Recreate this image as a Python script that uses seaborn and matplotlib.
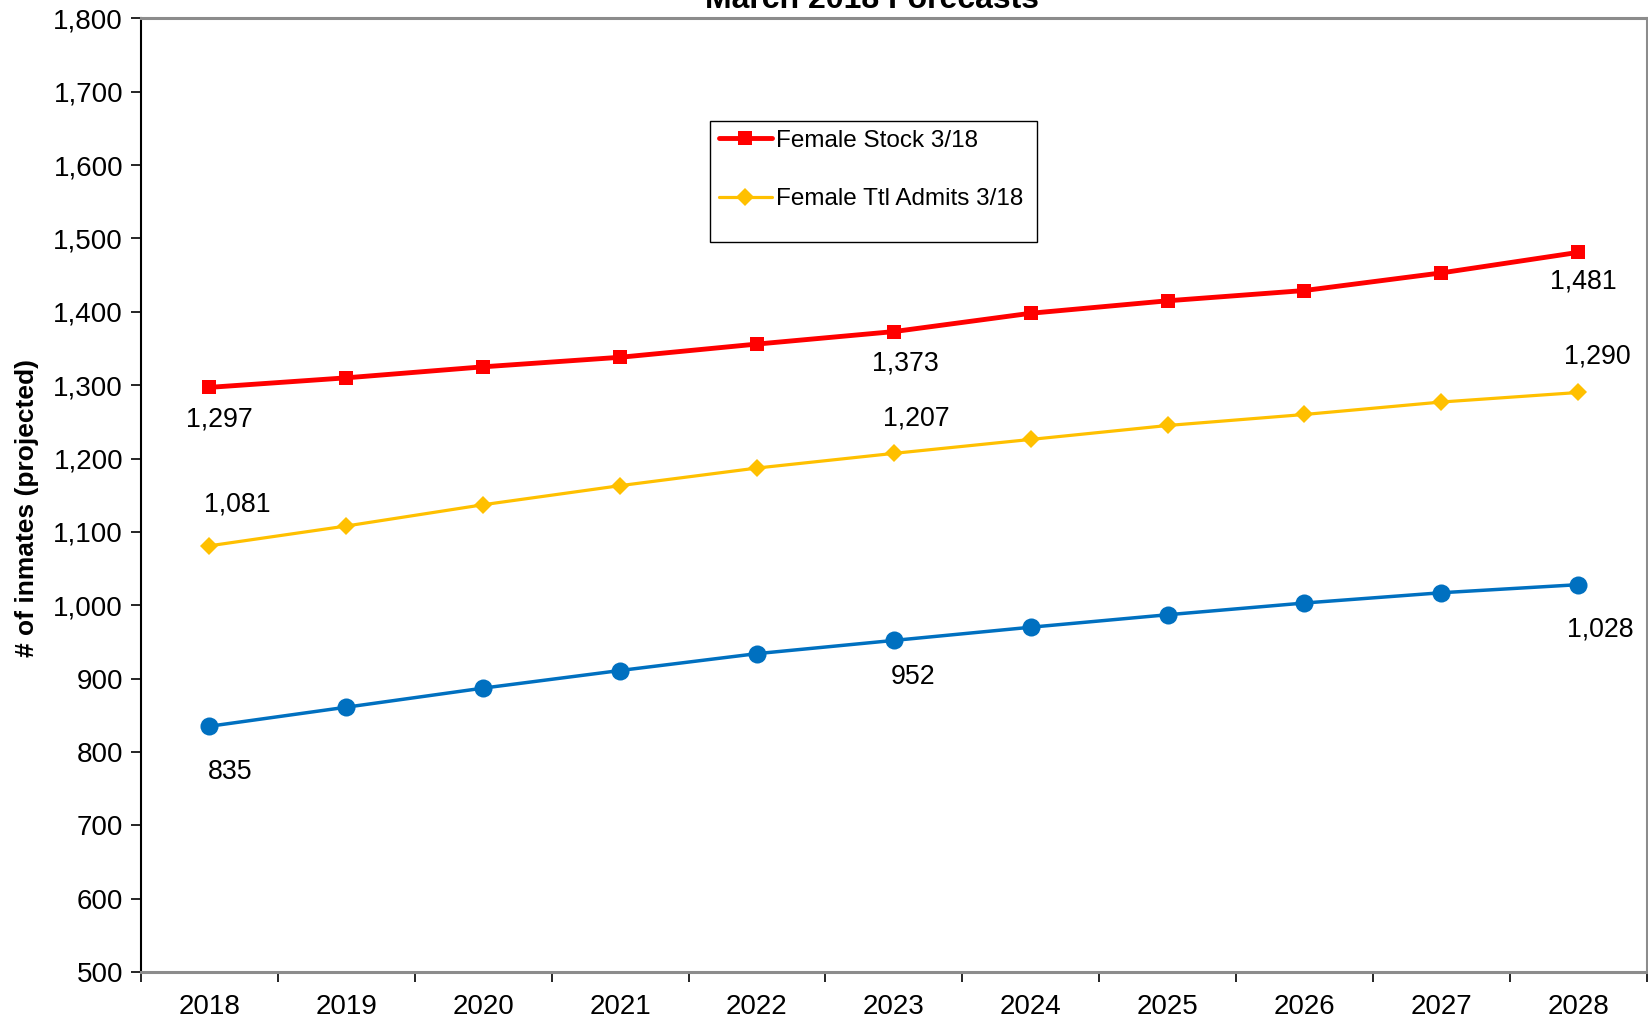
import matplotlib
matplotlib.use("Agg")
import matplotlib.pyplot as plt
import seaborn as sns
import pandas as pd
import numpy as np
from matplotlib.ticker import FuncFormatter, FixedLocator
from matplotlib.patches import Rectangle

years = [2018, 2019, 2020, 2021, 2022, 2023, 2024, 2025, 2026, 2027, 2028]
female_stock = [1297, 1310, 1325, 1338, 1356, 1373, 1398, 1415, 1429, 1453, 1481]
female_admits = [1081, 1108, 1137, 1163, 1187, 1207, 1226, 1245, 1260, 1277, 1290]
third_series = [835, 861, 887, 911, 934, 952, 970, 987, 1003, 1017, 1028]
label_years = [2018, 2023, 2028]

title = "March 2018 Forecasts"
ylabel = "# of inmates (projected)"

sns.set_style("white")
plt.rcParams['font.family'] = ['Liberation Sans', 'DejaVu Sans']
plt.rcParams.update({"text.color": "black", "axes.labelcolor": "black",
                     "xtick.color": "black", "ytick.color": "black"})

fig = plt.figure(figsize=(16.48, 10.21), dpi=100)
ax = fig.add_axes([0.0856, 0.048, 0.9135, 0.934])

df = pd.DataFrame({"year": years, "stock": female_stock,
                   "admits": female_admits, "third": third_series})

sns.lineplot(data=df, x="year", y="stock", ax=ax, color="#FF0000", lw=3.5,
             marker="s", markersize=10.5, markeredgewidth=0, label="Female Stock 3/18")
sns.lineplot(data=df, x="year", y="admits", ax=ax, color="#FFC000", lw=2.3,
             marker="D", markersize=9, markeredgewidth=0, label="Female Ttl Admits 3/18")
sns.lineplot(data=df, x="year", y="third", ax=ax, color="#0070C0", lw=2.5,
             marker="o", markersize=13, markeredgewidth=0, label="_nolegend_")

fs_tick = 20
fs_ann = 19.3
fs_leg = 17.5
# annotations (offsets in points)
offs_stock = [(7, -23), (8, -23), (4, -21)]
offs_admits = [(20, 30), (16, 25), (14, 26)]
offs_third = [(15, -33), (14, -26), (16, -32)]
for series, offs in [(female_stock, offs_stock), (female_admits, offs_admits), (third_series, offs_third)]:
    for yr, off in zip(label_years, offs):
        v = series[years.index(yr)]
        ax.annotate(f"{v:,}", (yr, v), xytext=off, textcoords="offset points",
                    ha="center", va="center", fontsize=fs_ann, color="black")

ax.set_xlim(2017.5, 2028.5)
ax.set_ylim(500, 1800)
ax.set_yticks(np.arange(500, 1801, 100))
ax.yaxis.set_major_formatter(FuncFormatter(lambda v, p: f"{int(v):,}"))
ax.set_xticks(years)
ax.set_xticklabels([str(y) for y in years])
ax.xaxis.set_minor_locator(FixedLocator(np.arange(2017.5, 2029, 1.0)))
ax.tick_params(axis="x", which="major", length=0, pad=16, labelsize=fs_tick, labelcolor="black")
ax.tick_params(axis="x", which="minor", length=7, width=1.2, color="black", direction="out", bottom=True)
ax.tick_params(axis="y", which="major", length=7, width=1.2, color="black", direction="out", left=True,
               labelsize=fs_tick, pad=6, labelcolor="black")

ax.set_xlabel("")
ax.set_ylabel(ylabel, fontsize=19, fontweight="bold", color="black")
ax.yaxis.set_label_coords(-0.068, 0.487)

for s in ["top", "right", "bottom"]:
    ax.spines[s].set_color("#8C8C8C")
    ax.spines[s].set_linewidth(2.2)
ax.spines["left"].set_color("black")
ax.spines["left"].set_linewidth(1.5)

# legend box
ax.add_patch(Rectangle((0.378, 0.7655), 0.217, 0.1265, transform=ax.transAxes,
                       fill=True, facecolor="white", edgecolor="black", lw=1.0, zorder=4))
leg = ax.legend(loc="upper left", bbox_to_anchor=(0.378, 0.892), fontsize=fs_leg,
                frameon=False, handlelength=2.2, handletextpad=0.15, labelspacing=1.5,
                borderpad=0.35, borderaxespad=0, labelcolor="black")
leg.set_zorder(5)

fig.text(0.529, 0.992, title, ha="center", va="baseline", fontsize=23, fontweight="bold", color="black")

fig.savefig("out.png", dpi=100)
